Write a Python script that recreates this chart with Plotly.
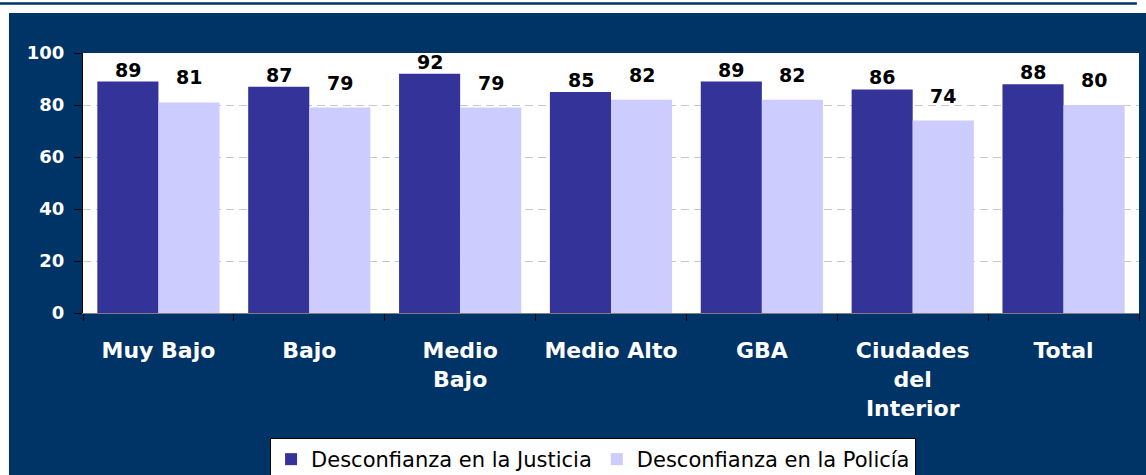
import plotly.graph_objects as go

categories = ["Muy Bajo", "Bajo", "Medio<br>Bajo", "Medio Alto", "GBA", "Ciudades<br>del<br>Interior", "Total"]
justicia = [89, 87, 92, 85, 89, 86, 88]
policia = [81, 79, 79, 82, 82, 74, 80]
series_names = ["Desconfianza en la Justicia", "Desconfianza en la Policía"]
y_ticks = [0, 20, 40, 60, 80, 100]

NAVY = "#003366"
DARK = "#333399"
LIGHT = "#CCCCFF"
FONT = "DejaVu Sans, Arial, sans-serif"

fig = go.Figure()
fig.add_trace(go.Bar(x=categories, y=justicia, name=series_names[0], marker=dict(color=DARK, line=dict(width=0))))
fig.add_trace(go.Bar(x=categories, y=policia, name=series_names[1], marker=dict(color=LIGHT, line=dict(width=0))))

for cat, v in zip(categories, justicia):
    fig.add_annotation(x=cat, y=v, text=f"<b>{v}</b>", showarrow=False, xshift=-30.5, yshift=-1,
                       yanchor="bottom", font=dict(family=FONT, size=19, color="black"))
for cat, v in zip(categories, policia):
    fig.add_annotation(x=cat, y=v, text=f"<b>{v}</b>", showarrow=False, xshift=30.5, yshift=12,
                       yanchor="bottom", font=dict(family=FONT, size=19, color="black"))

# navy background panel, white plot area and top rule
fig.add_shape(type="rect", xref="paper", yref="paper", x0=-0.0701, x1=1.01, y0=-0.70, y1=1.1538,
              fillcolor=NAVY, line=dict(width=0), layer="below")
fig.add_shape(type="rect", xref="x domain", yref="y domain", x0=0, x1=1, y0=0, y1=1,
              fillcolor="white", line=dict(width=0), layer="below")
fig.add_shape(type="line", xref="paper", yref="paper", x0=-0.0786, x1=0.998, y0=1.19, y1=1.19,
              line=dict(color=NAVY, width=2.5))

fig.update_layout(
    width=1146, height=475,
    margin=dict(l=83, r=7, t=53, b=162, autoexpand=False),
    paper_bgcolor="white",
    plot_bgcolor="white",
    barmode="group",
    bargap=0.19,
    bargroupgap=0,
    font=dict(family=FONT),
    showlegend=True,
    legend=dict(orientation="h", xref="container", yref="container",
                x=0.5175, xanchor="center", y=1 - 438 / 475, yanchor="top",
                bgcolor="white", bordercolor="black", borderwidth=1,
                font=dict(family=FONT, size=21, color="black"),
                traceorder="normal", itemwidth=30),
    xaxis=dict(showgrid=False, showline=True, linecolor="#808080", linewidth=1,
               ticks="outside", tickson="boundaries", ticklen=7, tickcolor="black",
               ticklabelstandoff=18, automargin=False,
               tickfont=dict(family=FONT, size=22, color="white", weight="bold"),
               fixedrange=True),
    yaxis=dict(range=[0, 100], tickvals=y_ticks, showgrid=True, gridcolor="#c8c8c8",
               griddash="8px,5px", gridwidth=1, showline=True, linecolor="black", linewidth=1,
               ticks="outside", ticklen=8, tickcolor="black", ticklabelstandoff=6,
               automargin=False,
               tickfont=dict(family=FONT, size=18, color="white", weight="bold"),
               zeroline=False, fixedrange=True),
)

fig.write_html("out.html", config={"displayModeBar": False},
               post_script="document.body.style.margin='0';")
